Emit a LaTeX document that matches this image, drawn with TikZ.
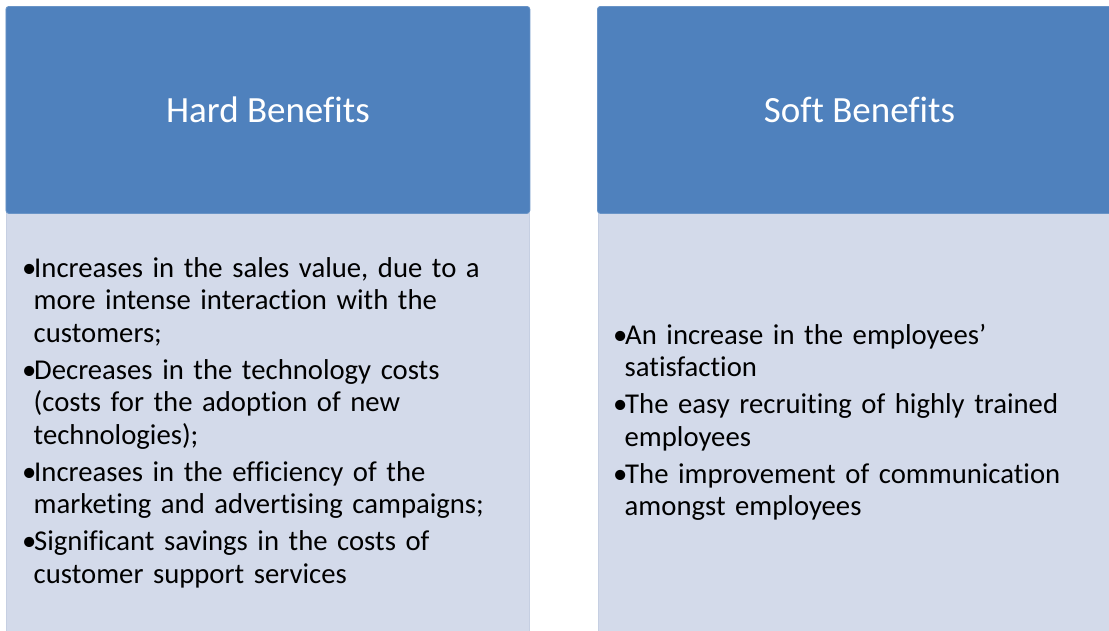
\documentclass[tikz,border=0pt]{standalone}
\usepackage{fontspec}
\setmainfont{Carlito}[Ligatures=NoCommon]
\definecolor{hdr}{RGB}{79,129,189}
\definecolor{bdy}{RGB}{211,218,234}
\definecolor{bdyline}{RGB}{198,207,226}
\newcommand\bitem[1]{\par\noindent\hangindent=11.5pt\hangafter=1\makebox[12pt][l]{•}#1\par}
\tikzset{
  hdrbox/.style={fill=hdr, draw=hdr!85!white, line width=0.8pt, rounded corners=3pt, minimum width=524pt, minimum height=207pt, anchor=north west, inner sep=0pt},
  bodybox/.style={fill=bdy, draw=bdyline, line width=1.2pt, minimum width=523pt, minimum height=425pt, anchor=north west, inner sep=0pt},
  hdrtext/.style={text=white, font=\fontsize{37}{44}\selectfont, inner sep=0pt},
  bodytext/.style={text=black, font=\fontsize{28.7}{32.5}\selectfont, text width=500pt, inner sep=0pt, anchor=west, execute at begin node={\raggedright\setlength{\parskip}{4.5pt}}}
}
\begin{document}
\begin{tikzpicture}[x=1pt,y=-1pt]
\useasboundingbox (0,0) rectangle (1109,630);
\fill[white] (0,0) rectangle (1109,630);
\begin{scope}
\clip (0,0) rectangle (1109,630);
\node[bodybox] (lbody) at (6,213) {};
\node[bodybox] (rbody) at (597.5,213) {};
\node[hdrbox] (lhead) at (5.5,6) {};
\node[hdrbox] (rhead) at (597,6) {};
\end{scope}
\node[hdrtext] (lht) at (lhead.center) {Hard Benefits};
\node[hdrtext] (rht) at (rhead.center) {Soft Benefits};
\node[bodytext] (lbt) at (22,414) {%
\bitem{Increases in the sales value, due to a\newline more intense interaction with the\newline customers;}
\bitem{Decreases in the technology costs\newline (costs for the adoption of new\newline technologies);}
\bitem{Increases in the efficiency of the\newline marketing and advertising campaigns;}
\bitem{Significant savings in the costs of\newline customer support services}};
\node[bodytext] (rbt) at (613,414) {%
\bitem{An increase in the employees’\newline satisfaction}
\bitem{The easy recruiting of highly trained\newline employees}
\bitem{The improvement of communication\newline amongst employees}};
\end{tikzpicture}
\end{document}
